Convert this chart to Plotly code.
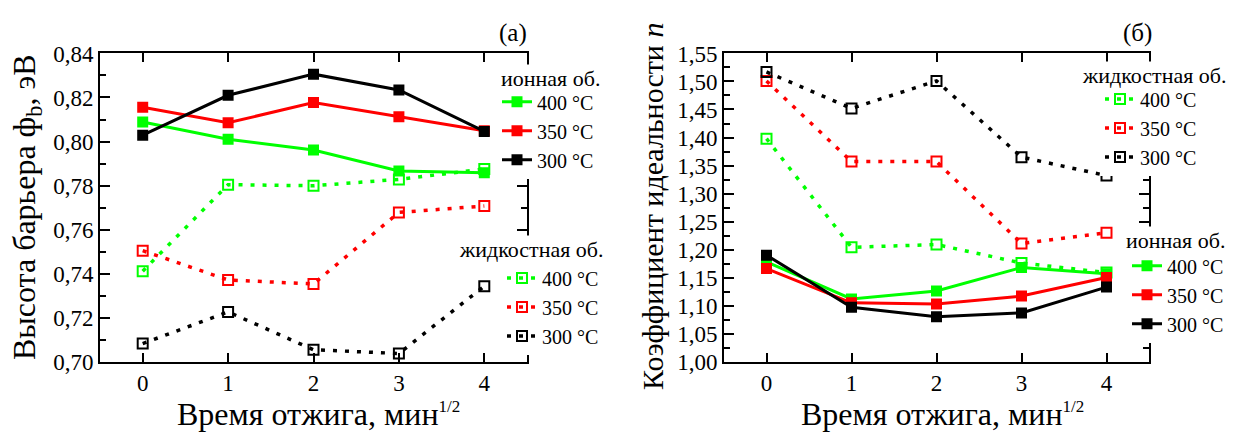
import plotly.graph_objects as go

# ---------------- data ----------------
times = [0, 1, 2, 3, 4]
temps = ["400 °C", "350 °C", "300 °C"]
colors = ["#00FF00", "#FF0000", "#000000"]

# panel (a): barrier height, eV
phi_ion_400 = [0.8089, 0.8010, 0.7961, 0.7866, 0.7858]
phi_ion_350 = [0.8156, 0.8085, 0.8177, 0.8113, 0.8049]
phi_ion_300 = [0.8029, 0.8210, 0.8306, 0.8234, 0.8046]
phi_liq_400 = [0.7411, 0.7804, 0.7799, 0.7828, 0.7875]
phi_liq_350 = [0.7504, 0.7371, 0.7353, 0.7678, 0.7707]
phi_liq_300 = [0.7082, 0.7226, 0.7054, 0.7037, 0.7343]

# panel (б): ideality factor n
n_ion_400 = [1.178, 1.112, 1.126, 1.168, 1.157]
n_ion_350 = [1.166, 1.105, 1.103, 1.117, 1.150]
n_ion_300 = [1.190, 1.097, 1.080, 1.087, 1.133]
n_liq_400 = [1.398, 1.204, 1.209, 1.176, 1.159]
n_liq_350 = [1.501, 1.357, 1.357, 1.211, 1.230]
n_liq_300 = [1.517, 1.452, 1.501, 1.365, 1.332]

ion_title = "ионная об."
liq_title = "жидкостная об."

FONT = "'Liberation Serif', 'Times New Roman', serif"
W, H = 1253, 434

fig = go.Figure()

def add_series(ys, color, name, xa, ya, legend, solid):
    if solid:
        line = dict(color=color, width=3)
        marker = dict(symbol="square", size=11, color=color)
    else:
        line = dict(color=color, width=3.5, dash="4px,8px")
        marker = dict(symbol="square-open", size=10, color=color,
                      line=dict(color=color, width=2))
    fig.add_trace(go.Scatter(x=times, y=ys, mode="lines+markers", name=name,
                             line=line, marker=marker, xaxis=xa, yaxis=ya,
                             legend=legend))

for ys, c, t in zip([phi_ion_400, phi_ion_350, phi_ion_300], colors, temps):
    add_series(ys, c, t, "x", "y", "legend", True)
for ys, c, t in zip([phi_liq_400, phi_liq_350, phi_liq_300], colors, temps):
    add_series(ys, c, t, "x", "y", "legend2", False)
for ys, c, t in zip([n_liq_400, n_liq_350, n_liq_300], colors, temps):
    add_series(ys, c, t, "x2", "y2", "legend3", False)
for ys, c, t in zip([n_ion_400, n_ion_350, n_ion_300], colors, temps):
    add_series(ys, c, t, "x2", "y2", "legend4", True)

def px_x(p):
    return p / W

def px_y(p):
    return 1 - p / H

ydom = [px_y(371), px_y(44)]
axis_common = dict(showline=True, linecolor="black", linewidth=2, mirror="allticks",
                   ticks="inside", tickcolor="black", tickwidth=2, showgrid=False,
                   zeroline=False, tickfont=dict(family=FONT, size=23, color="black"))

fig.update_layout(
    width=W, height=H, margin=dict(l=0, r=0, t=0, b=0),
    paper_bgcolor="white", plot_bgcolor="white",
    separators=", ",
    font=dict(family=FONT, color="black"),
    xaxis=dict(domain=[px_x(100), px_x(527)], range=[-0.5, 4.5], dtick=1,
               ticklen=9, anchor="y", **axis_common),
    yaxis=dict(domain=ydom, range=[0.70, 0.84], dtick=0.02, tickformat=".2f",
               ticklen=10, anchor="x",
               minor=dict(dtick=0.01, ticks="inside", ticklen=6, tickwidth=2, tickcolor="black"),
               **axis_common),
    xaxis2=dict(domain=[px_x(724), px_x(1149)], range=[-0.5, 4.5], dtick=1,
                ticklen=9, anchor="y2", **axis_common),
    yaxis2=dict(domain=ydom, range=[1.00, 1.55], dtick=0.05, tickformat=".2f",
                ticklen=10, anchor="x2",
                minor=dict(dtick=0.025, ticks="inside", ticklen=6, tickwidth=2, tickcolor="black"),
                **axis_common),
)

LEGFONT = 20
leg_common = dict(bgcolor="white", borderwidth=0, xanchor="left", yanchor="middle",
                  font=dict(family=FONT, size=LEGFONT, color="black"),
                  tracegroupgap=0, itemwidth=30)

fig.update_layout(
    legend=dict(x=px_x(497), y=px_y(126), **leg_common),
    legend2=dict(x=px_x(502), y=px_y(313), **leg_common),
    legend3=dict(x=px_x(1100), y=px_y(123), **leg_common),
    legend4=dict(x=px_x(1127), y=px_y(300), **leg_common),
)

sup = "<sup><span style='font-size:17px'>1/2</span></sup>"
ann = [
    dict(text="(a)", x=px_x(513), y=px_y(22), font=dict(size=25)),
    dict(text="(б)", x=px_x(1137), y=px_y(22), font=dict(size=25)),
    dict(text="Высота барьера ф<sub>b</sub>, эВ", x=px_x(26), y=px_y(207),
         textangle=-90, font=dict(size=32)),
    dict(text="Коэффициент идеальности <i>n</i>", x=px_x(652), y=px_y(207),
         textangle=-90, font=dict(size=30)),
    dict(text="Время отжига, мин" + sup, x=px_x(318), y=px_y(427),
         font=dict(size=32)),
    dict(text="Время отжига, мин" + sup, x=px_x(942), y=px_y(427),
         font=dict(size=32)),
]
# legend titles as white-backed text (they hide the right spine as in the original)
leg_titles = [
    dict(text=ion_title, x=px_x(499), y=px_y(71), xanchor="left", font=dict(size=22)),
    dict(text=liq_title, x=px_x(457), y=px_y(252), xanchor="left", font=dict(size=22)),
    dict(text=liq_title, x=px_x(1080), y=px_y(67), xanchor="left", font=dict(size=22)),
    dict(text=ion_title, x=px_x(1124), y=px_y(242), xanchor="left", font=dict(size=22)),
]
for a in leg_titles:
    a.update(bgcolor="white", borderpad=1)
ann += leg_titles
for a in ann:
    a.setdefault("xanchor", "center")
    a.update(xref="paper", yref="paper", showarrow=False, yanchor="middle")
    a["font"].update(family=FONT, color="black")
fig.update_layout(annotations=ann)

fig.write_html("out.html")
